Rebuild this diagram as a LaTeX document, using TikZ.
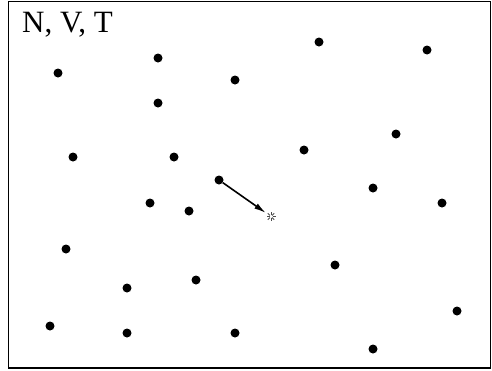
\documentclass[tikz,border=0pt]{standalone}
\usepackage{fontspec}
\setmainfont{Liberation Serif}
\usetikzlibrary{arrows.meta,calc}
\begin{document}
\begin{tikzpicture}[x=1pt,y=-1pt,
  dot/.style={circle,fill=black,inner sep=0pt,minimum size=9pt},
  vec/.style={-{Latex[length=12pt,width=6pt]},line width=1.6pt},
  ray/.style={line width=1pt,black!70}]
\useasboundingbox (0,0) rectangle (492,370);
\draw[line width=1.5pt] (8.5,1.5) rectangle (490.5,368);
\node[anchor=north west,inner sep=0pt,font=\fontsize{31}{37}\selectfont] (lbl) at (22,11.5) {N, V, T};
\foreach \i/\x/\y in {1/58/73,2/158/58,3/235/80,4/319/42,5/427/50,6/158/103,7/73/157,8/174/157,9/304/150,10/396/134,12/150/203,13/189/211,14/373/188,15/442/203,16/66/249,17/335/265,18/127/288,19/196/280,20/457/311,21/50/326,22/127/333,23/235/333,24/373/349}
  \node[dot] (d\i) at (\x,\y) {};
\node[dot] (m) at (219,180) {};
\coordinate (s) at (271,216.5);
\foreach \a in {0,45,...,315}
  \draw[ray] ($(s)+(\a:1.5pt)$) -- ($(s)+(\a:4.5pt)$);
\coordinate (sEnd) at (266,213);
\draw[vec] (m) -- (sEnd);
\end{tikzpicture}
\end{document}
